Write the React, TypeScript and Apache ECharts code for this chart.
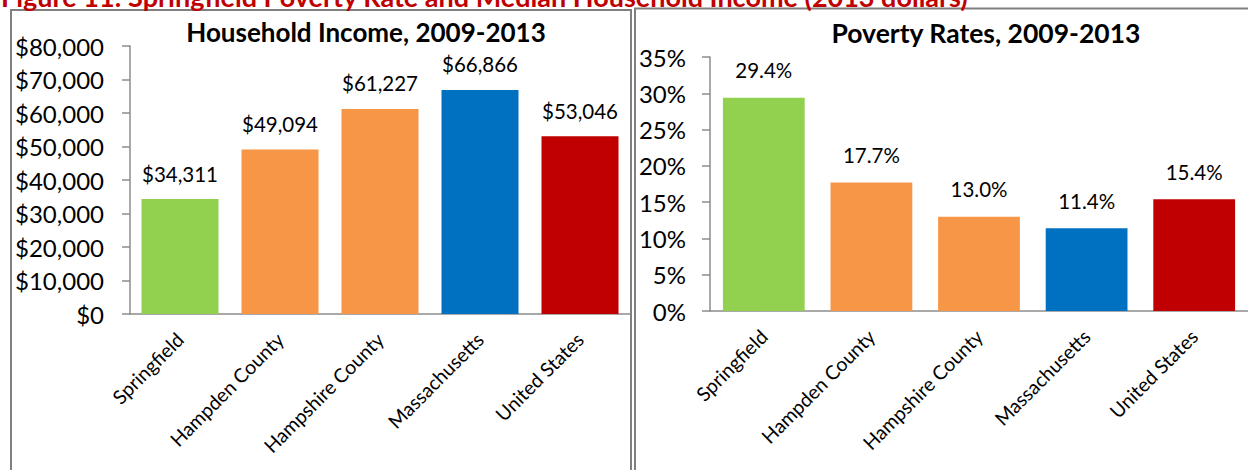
import React, { useEffect, useRef } from "react";
import * as echarts from "echarts";

const categories = ["Springfield", "Hampden County", "Hampshire County", "Massachusetts", "United States"];
const incomeValues = [34311, 49094, 61227, 66866, 53046];
const povertyValues = [29.4, 17.7, 13.0, 11.4, 15.4];
const barColors = ["#92D050", "#F79646", "#F79646", "#0070C0", "#C00000"];
const figureTitle = "Figure 11: Springfield Poverty Rate and Median Household Income (2013 dollars)";
const incomeTitle = "Household Income, 2009-2013";
const povertyTitle = "Poverty Rates, 2009-2013";

const FONT = "Lato, 'Open Sans', sans-serif";

function fmtMoney(v: number) {
  return "$" + v.toLocaleString("en-US");
}

export default function App() {
  const ref = useRef<HTMLDivElement>(null);
  useEffect(() => {
    document.body.style.margin = "0";
    const chart = echarts.init(ref.current!, null, { renderer: "svg" });
    const axisLineStyle = { color: "#8c8c8c", width: 1.5 };
    const catLabel = { rotate: 45, fontSize: 19.5, color: "#000", margin: 22, fontFamily: FONT };
    const option: any = {
      animation: false,
      backgroundColor: "#ffffff",
      textStyle: { fontFamily: FONT },
      graphic: [
        {
          type: "rect",
          shape: { x: 11, y: 10, width: 620, height: 480 },
          style: { fill: "none", stroke: "#808080", lineWidth: 2 },
          silent: true,
        },
        {
          type: "rect",
          shape: { x: 635, y: 8.5, width: 640, height: 480 },
          style: { fill: "none", stroke: "#808080", lineWidth: 2 },
          silent: true,
        },
        {
          type: "text",
          x: 1,
          y: -4,
          style: {
            text: figureTitle,
            fill: "#C00000",
            font: `bold 27px ${FONT}`,
            textAlign: "left",
            textVerticalAlign: "middle",
          },
        },
        {
          type: "text",
          x: 366,
          y: 32,
          style: {
            text: incomeTitle,
            fill: "#000000",
            font: `bold 26px ${FONT}`,
            textAlign: "center",
            textVerticalAlign: "middle",
          },
        },
        {
          type: "text",
          x: 986,
          y: 33,
          style: {
            text: povertyTitle,
            fill: "#000000",
            font: `bold 26.5px ${FONT}`,
            textAlign: "center",
            textVerticalAlign: "middle",
          },
        },
      ],
      grid: [
        { left: 130, top: 46, width: 500, height: 268 },
        { left: 710, top: 57, width: 540, height: 254 },
      ],
      xAxis: [
        {
          type: "category",
          gridIndex: 0,
          data: categories,
          axisLine: { lineStyle: axisLineStyle },
          axisTick: { show: false },
          axisLabel: catLabel,
        },
        {
          type: "category",
          gridIndex: 1,
          data: categories,
          axisLine: { lineStyle: axisLineStyle },
          axisTick: { show: false },
          axisLabel: catLabel,
        },
      ],
      yAxis: [
        {
          type: "value",
          gridIndex: 0,
          min: 0,
          max: 80000,
          interval: 10000,
          splitLine: { show: false },
          axisLine: { show: true, lineStyle: axisLineStyle },
          axisTick: { show: true, length: 8, lineStyle: axisLineStyle },
          axisLabel: {
            fontSize: 24,
            color: "#000",
            margin: 26,
            fontFamily: FONT,
            formatter: (v: number) => fmtMoney(v),
          },
        },
        {
          type: "value",
          gridIndex: 1,
          min: 0,
          max: 35,
          interval: 5,
          splitLine: { show: false },
          axisLine: { show: true, lineStyle: axisLineStyle },
          axisTick: { show: true, length: 8, lineStyle: axisLineStyle },
          axisLabel: {
            fontSize: 24,
            color: "#000",
            margin: 24,
            fontFamily: FONT,
            formatter: (v: number) => v + "%",
          },
        },
      ],
      series: [
        {
          type: "bar",
          xAxisIndex: 0,
          yAxisIndex: 0,
          barCategoryGap: "23%",
          data: incomeValues.map((v, i) => ({ value: v, itemStyle: { color: barColors[i] } })),
          label: {
            show: true,
            position: "top",
            distance: 15,
            fontSize: 20.5,
            color: "#000",
            fontFamily: FONT,
            formatter: (p: any) => fmtMoney(p.value),
          },
        },
        {
          type: "bar",
          xAxisIndex: 1,
          yAxisIndex: 1,
          barCategoryGap: "24%",
          data: povertyValues.map((v, i) => ({ value: v, itemStyle: { color: barColors[i] } })),
          label: {
            show: true,
            position: "top",
            distance: 17,
            fontSize: 20.5,
            color: "#000",
            fontFamily: FONT,
            formatter: (p: any) => p.value.toFixed(1) + "%",
          },
        },
      ],
    };
    chart.setOption(option);
    return () => chart.dispose();
  }, []);
  return <div ref={ref} style={{ width: 1248, height: 470 }} />;
}
